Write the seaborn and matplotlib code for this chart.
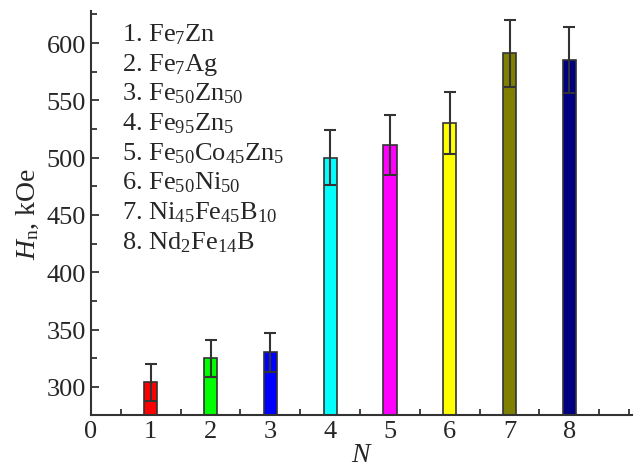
import matplotlib
matplotlib.use("Agg")
import matplotlib.pyplot as plt
import seaborn as sns
import pandas as pd
from matplotlib.ticker import MultipleLocator
from matplotlib import font_manager

N = [1, 2, 3, 4, 5, 6, 7, 8]
hn = [304, 325, 330, 500, 511, 530, 591, 585]
err = [16, 16, 17, 24, 26, 27, 29, 29]
colors = ["#ff0000", "#00ff00", "#0000ff", "#00ffff", "#ff00ff", "#ffff00", "#808000", "#000080"]
labels = ["1. Fe$_7$Zn", "2. Fe$_7$Ag", "3. Fe$_{50}$Zn$_{50}$", "4. Fe$_{95}$Zn$_5$",
          "5. Fe$_{50}$Co$_{45}$Zn$_5$", "6. Fe$_{50}$Ni$_{50}$",
          "7. Ni$_{45}$Fe$_{45}$B$_{10}$", "8. Nd$_2$Fe$_{14}$B"]

sns.set_style("ticks")
plt.rcParams["font.family"] = ["Liberation Serif"]
plt.rcParams["mathtext.fontset"] = "custom"
plt.rcParams["mathtext.rm"] = "Liberation Serif"
plt.rcParams["mathtext.it"] = "Liberation Serif:italic"

df = pd.DataFrame({"N": N, "Hn": hn})

fig = plt.figure(figsize=(6.36, 4.77), dpi=100)
ax = fig.add_axes([0.143, 0.128, 0.851, 0.847])
sns.barplot(data=df, x="N", y="Hn", hue="N", palette=colors, native_scale=True, saturation=1,
            width=0.22, edgecolor="#333333", linewidth=1.2, legend=False, ax=ax)
ax.errorbar(N, hn, yerr=err, fmt="none", ecolor="#333333", elinewidth=1.5, capsize=4, capthick=1.5)

ax.set_xlim(0, 9.05)
ax.set_ylim(275.5, 628)
ax.xaxis.set_major_locator(MultipleLocator(1))
ax.xaxis.set_minor_locator(MultipleLocator(0.5))
ax.yaxis.set_major_locator(MultipleLocator(50))
ax.yaxis.set_minor_locator(MultipleLocator(25))
ax.set_xticks(range(0, 9))
ax.tick_params(which="both", direction="in", width=1.3, color="#333333", labelsize=19)
ax.tick_params(which="major", length=6)
ax.tick_params(which="minor", length=4)
for s in ["top", "right"]:
    ax.spines[s].set_visible(False)
for s in ["left", "bottom"]:
    ax.spines[s].set_linewidth(1.5)
    ax.spines[s].set_color("#333333")

ax.set_xlabel("$\\mathit{N}$", fontsize=20, labelpad=0)
ax.set_ylabel("$\\mathit{H}_{\\mathrm{n}}$, kOe", fontsize=20, labelpad=4)

for i, lab in enumerate(labels):
    ax.text(0.057, 0.943 - i * 0.0733, lab, transform=ax.transAxes, fontsize=19,
            va="center", ha="left")

fig.savefig("out.png", dpi=100)
